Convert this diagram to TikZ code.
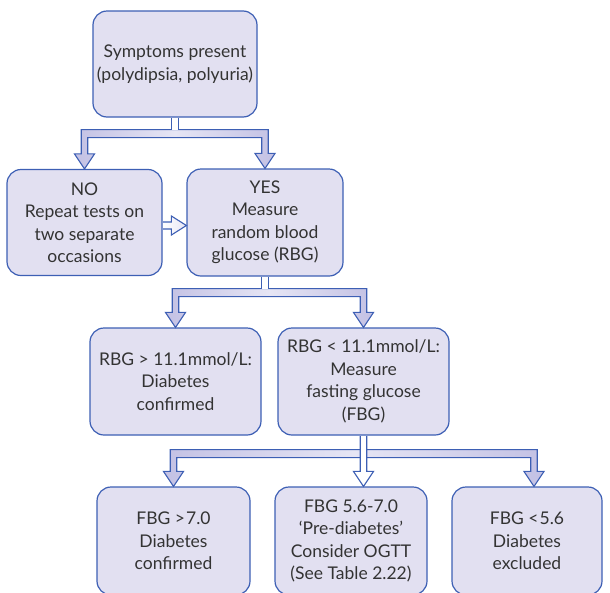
\documentclass[tikz,border=0pt]{standalone}
\usepackage{fontspec}
\setmainfont{Lato}
\usetikzlibrary{calc}
\definecolor{boxfill}{HTML}{E2E0F1}
\definecolor{boxline}{HTML}{3D5FB4}
\definecolor{arrdark}{HTML}{C3C1E4}
\definecolor{arrlight}{HTML}{E6E5F4}
\definecolor{textc}{HTML}{333333}
\def\sw{3.25pt}
\def\hw{10pt}
\def\hl{15pt}
\def\bt{8pt}
\newcommand\barpoly[4]{%
 \path[arrline, left color=arrdark, right color=arrdark, middle color=arrlight]
  let \p1=(#1), \p2=(#2), \p3=(#3) in
  (\x2-\sw,\y1-#4) -- (\x2-\sw,\y2+\hl) -- (\x2-\hw,\y2+\hl) -- (\x2,\y2) -- (\x2+\hw,\y2+\hl) -- (\x2+\sw,\y2+\hl) -- (\x2+\sw,\y1-#4-\bt) -- (\x3-\sw,\y1-#4-\bt) -- (\x3-\sw,\y3+\hl) -- (\x3-\hw,\y3+\hl) -- (\x3,\y3) -- (\x3+\hw,\y3+\hl) -- (\x3+\sw,\y3+\hl) -- (\x3+\sw,\y1-#4) -- cycle;
}
\newcommand\stemline[2]{%
 \path[fill=white] let \p1=(#1) in (\x1-\sw,\y1-0.6pt) rectangle (\x1+\sw,\y1-#2-0.6pt);
 \draw[arrline] let \p1=(#1) in (\x1-\sw,\y1-0.5pt) -- (\x1-\sw,\y1-#2) (\x1+\sw,\y1-0.5pt) -- (\x1+\sw,\y1-#2);
}
\newcommand\midarrow[2]{%
 \draw[arrline, fill=white] let \p1=(#1), \p2=(#2) in (\x1-\sw,\y1-0.5pt) -- (\x1-\sw,\y2+\hl) -- (\x1-\hw,\y2+\hl) -- (\x1,\y2) -- (\x1+\hw,\y2+\hl) -- (\x1+\sw,\y2+\hl) -- (\x1+\sw,\y1-0.5pt);
}
\begin{document}
\begin{tikzpicture}[x=1pt,y=-1pt,
 box/.style={draw=boxline, fill=boxfill, line width=1.2pt, rounded corners=14pt, align=center, inner sep=0pt, text=textc, font=\fontsize{17.5}{22.5}\selectfont},
 arrline/.style={draw=boxline, line width=1.1pt, line join=miter},
]
\useasboundingbox (0,0) rectangle (610,592);
\clip (0,0) rectangle (610,592);

\node[box, minimum width=164pt, minimum height=106pt] (s) at (175,64) {Symptoms present\\(polydipsia, polyuria)};
\node[box, minimum width=155pt, minimum height=106pt] (no) at (84.5,222.5) {NO\\Repeat tests on\\two separate\\occasions};
\node[box, minimum width=156pt, minimum height=107pt] (yes) at (265,222.5) {YES\\Measure\\random blood\\glucose (RBG)};
\node[box, minimum width=171pt, minimum height=107pt] (rbgh) at (175.5,381.5) {RBG > 11.1mmol/L:\\Diabetes\\confirmed};
\node[box, minimum width=171pt, minimum height=107pt] (rbgl) at (363.5,381.5) {RBG < 11.1mmol/L:\\Measure\\fasting glucose\\(FBG)};
\node[box, minimum width=153pt, minimum height=108pt] (fa) at (173.5,541) {FBG >\kern1pt7.0\\Diabetes\\confirmed};
\node[box, minimum width=152pt, minimum height=108pt] (fb) at (351,541) {FBG 5.6-7.0\\‘Pre-diabetes’\\Consider OGTT\\(See Table 2.22)};
\node[box, minimum width=150pt, minimum height=108pt] (fc) at (527,541) {FBG <\kern1pt5.6\\Diabetes\\excluded};

\coordinate (tc) at ($(fc.north)+(7,0)$);
\coordinate (tm) at (rbgl.south |- fb.north);

% split 1
\barpoly{s.south}{no.north}{yes.north}{12pt}
\stemline{s.south}{12pt}
% split 2
\barpoly{yes.south}{rbgh.north}{rbgl.north}{12pt}
\stemline{yes.south}{12pt}
% split 3
\barpoly{rbgl.south}{fa.north}{tc}{14pt}
\midarrow{rbgl.south}{tm}
% NO -> YES
\draw[arrline, left color=white, right color=arrlight] let \p1=(no.east), \p2=(yes.west) in
 (\x1+0.6pt,\y1+0.5pt) -- (\x2-15pt,\y1+0.5pt) -- (\x2-15pt,\y1+6.5pt) -- (\x2,\y1-3pt) -- (\x2-15pt,\y1-12.5pt) -- (\x2-15pt,\y1-6.5pt) -- (\x1+0.6pt,\y1-6.5pt);
\end{tikzpicture}
\end{document}
